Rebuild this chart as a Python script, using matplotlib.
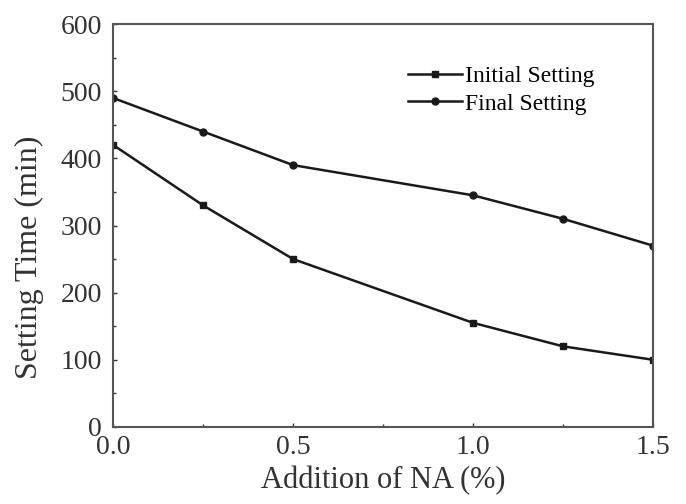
import numpy as np
import matplotlib.pyplot as plt
from matplotlib.ticker import MultipleLocator

plt.rcParams['font.family'] = ['Liberation Serif', 'DejaVu Serif']

# NA dosage (%) and setting times (min)
na = [0.0, 0.25, 0.5, 1.0, 1.25, 1.5]
initial_setting = [420, 330, 250, 155, 120, 100]
final_setting = [490, 440, 390, 345, 310, 270]

fig = plt.figure(figsize=(6.86, 5.04), dpi=100)
ax = fig.add_axes([0.165, 0.153, 0.787, 0.799])

c = '#1a1a1a'
ax.plot(na, initial_setting, color=c, lw=1.8, marker='s', ms=5, label='Initial Setting')
ax.plot(na, final_setting, color=c, lw=1.8, marker='o', ms=5, label='Final Setting')

ax.set_xlim(0, 1.5)
ax.set_ylim(0, 600)
ax.xaxis.set_major_locator(MultipleLocator(0.5))
ax.xaxis.set_minor_locator(MultipleLocator(0.25))
ax.yaxis.set_major_locator(MultipleLocator(100))
ax.yaxis.set_minor_locator(MultipleLocator(50))
ax.tick_params(which='both', direction='in', labelsize=20, colors='#333333')
ax.tick_params(axis='y', pad=8)
ax.tick_params(axis='x', pad=6)
ax.tick_params(which='major', length=3, width=1)
ax.tick_params(which='minor', length=2, width=1)
for s in ax.spines.values():
    s.set_color('#555555')
    s.set_linewidth(1.5)

ax.set_xlabel('Addition of NA (%)', fontsize=22, color='#333333', labelpad=4)
ax.set_ylabel('Setting Time (min)', fontsize=23, color='#333333')
# label sits a bit below the axis centre in the original
ax.yaxis.set_label_coords(-0.128, 0.42)

ax.legend(loc='upper right', bbox_to_anchor=(0.93, 0.95), frameon=False, fontsize=17,
          handlelength=2.3, handletextpad=0.1, labelspacing=0.25)

fig.savefig('out.png', dpi=100)
